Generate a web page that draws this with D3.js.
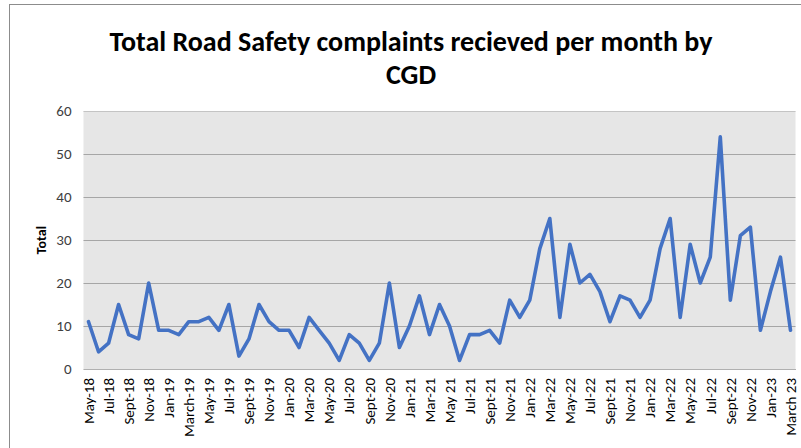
<!DOCTYPE html>
<html><head><meta charset="utf-8">
<script src="https://cdn.jsdelivr.net/npm/d3@7"></script>
<style>
body{margin:0;background:#fff;}
svg{display:block;}
</style></head>
<body>
<svg id="chart" width="801" height="448"></svg>
<script>
const titleLines = ["Total Road Safety complaints recieved per month by", "CGD"];
const yLabel = "Total";
const values = [11,4,6,15,8,7,20,9,9,8,11,11,12,9,15,3,7,15,11,9,9,5,12,9,6,2,8,6,2,6,20,5,10,17,8,15,10,2,8,8,9,6,16,12,16,28,35,12,29,20,22,18,11,17,16,12,16,28,35,12,29,20,26,54,16,31,33,9,18,26,9];
const tickLabels = ["May-18","Jul-18","Sept-18","Nov-18","Jan-19","March-19","May-19","Jul-19","Sept-19","Nov-19","Jan-20","Mar-20","May-20","Jul-20","Sept-20","Nov-20","Jan-21","Mar-21","May 21","Jul-21","Sept-21","Nov-21","Jan-22","Mar-22","May-22","Jul-22","Sept-21","Nov-21","Jan-22","Mar-22","May-22","Jul-22","Sept-22","Nov-22","Jan-23","March 23"];
const yTicks = [0,10,20,30,40,50,60];

const svg = d3.select("#chart");
const font = "Carlito, Calibri, 'Open Sans', sans-serif";

// outer chart border
svg.append("rect").attr("x",9.5).attr("y",4.5).attr("width",820).attr("height",460)
  .attr("fill","#fff").attr("stroke","#8c8c8c").attr("stroke-width",1);

const m = {left:83.5, right:795.5, top:111, bottom:369};
const x = d3.scaleBand().domain(d3.range(values.length)).range([m.left, m.right]);
const y = d3.scaleLinear().domain([0,60]).range([m.bottom, m.top]);

svg.append("rect").attr("x",m.left).attr("y",m.top).attr("width",m.right-m.left).attr("height",m.bottom-m.top)
  .attr("fill","#e6e6e6");

// gridlines
svg.append("g").selectAll("line").data(yTicks).join("line")
  .attr("x1",m.left).attr("x2",m.right)
  .attr("y1",d=>Math.round(y(d))+0.5).attr("y2",d=>Math.round(y(d))+0.5)
  .attr("stroke",d=>d===60?"#c4c4c4":"#a6a6a6").attr("stroke-width",1);

// y axis
const yAxis = svg.append("g").attr("transform",`translate(${m.left},0)`)
  .call(d3.axisLeft(y).tickValues(yTicks).tickSize(0).tickPadding(12));
yAxis.select(".domain").remove();
yAxis.selectAll("text").attr("font-family",font).attr("font-size",15).attr("fill","#404040");

// x axis
const xAxis = svg.append("g").attr("transform",`translate(0,${m.bottom})`)
  .call(d3.axisBottom(x).tickValues(d3.range(0,values.length,2)).tickSize(0)
    .tickFormat(i=>tickLabels[i/2]));
xAxis.select(".domain").attr("stroke","#b0b0b0");
xAxis.selectAll("text")
  .attr("font-family",font).attr("font-size",15).attr("fill","#000")
  .attr("transform","rotate(-90)").attr("text-anchor","end")
  .attr("x",-9).attr("y",0).attr("dy","0.35em");

// line
svg.append("path").datum(values)
  .attr("fill","none").attr("stroke","#4472c4").attr("stroke-width",3.6)
  .attr("stroke-linejoin","round").attr("stroke-linecap","round")
  .attr("d", d3.line().x((d,i)=>x(i)+x.bandwidth()/2).y(d=>y(d)));

// y label
svg.append("text").attr("transform",`translate(46,${(m.top+m.bottom)/2}) rotate(-90)`)
  .attr("text-anchor","middle").attr("font-family",font).attr("font-weight","bold")
  .attr("font-size",14).attr("fill","#000").text(yLabel);

// title
svg.append("g").selectAll("text").data(titleLines).join("text")
  .attr("x",411).attr("y",(d,i)=>51+i*33)
  .attr("text-anchor","middle").attr("font-family",font).attr("font-weight","bold")
  .attr("font-size",28).attr("fill","#000").text(d=>d);
</script>
</body></html>
